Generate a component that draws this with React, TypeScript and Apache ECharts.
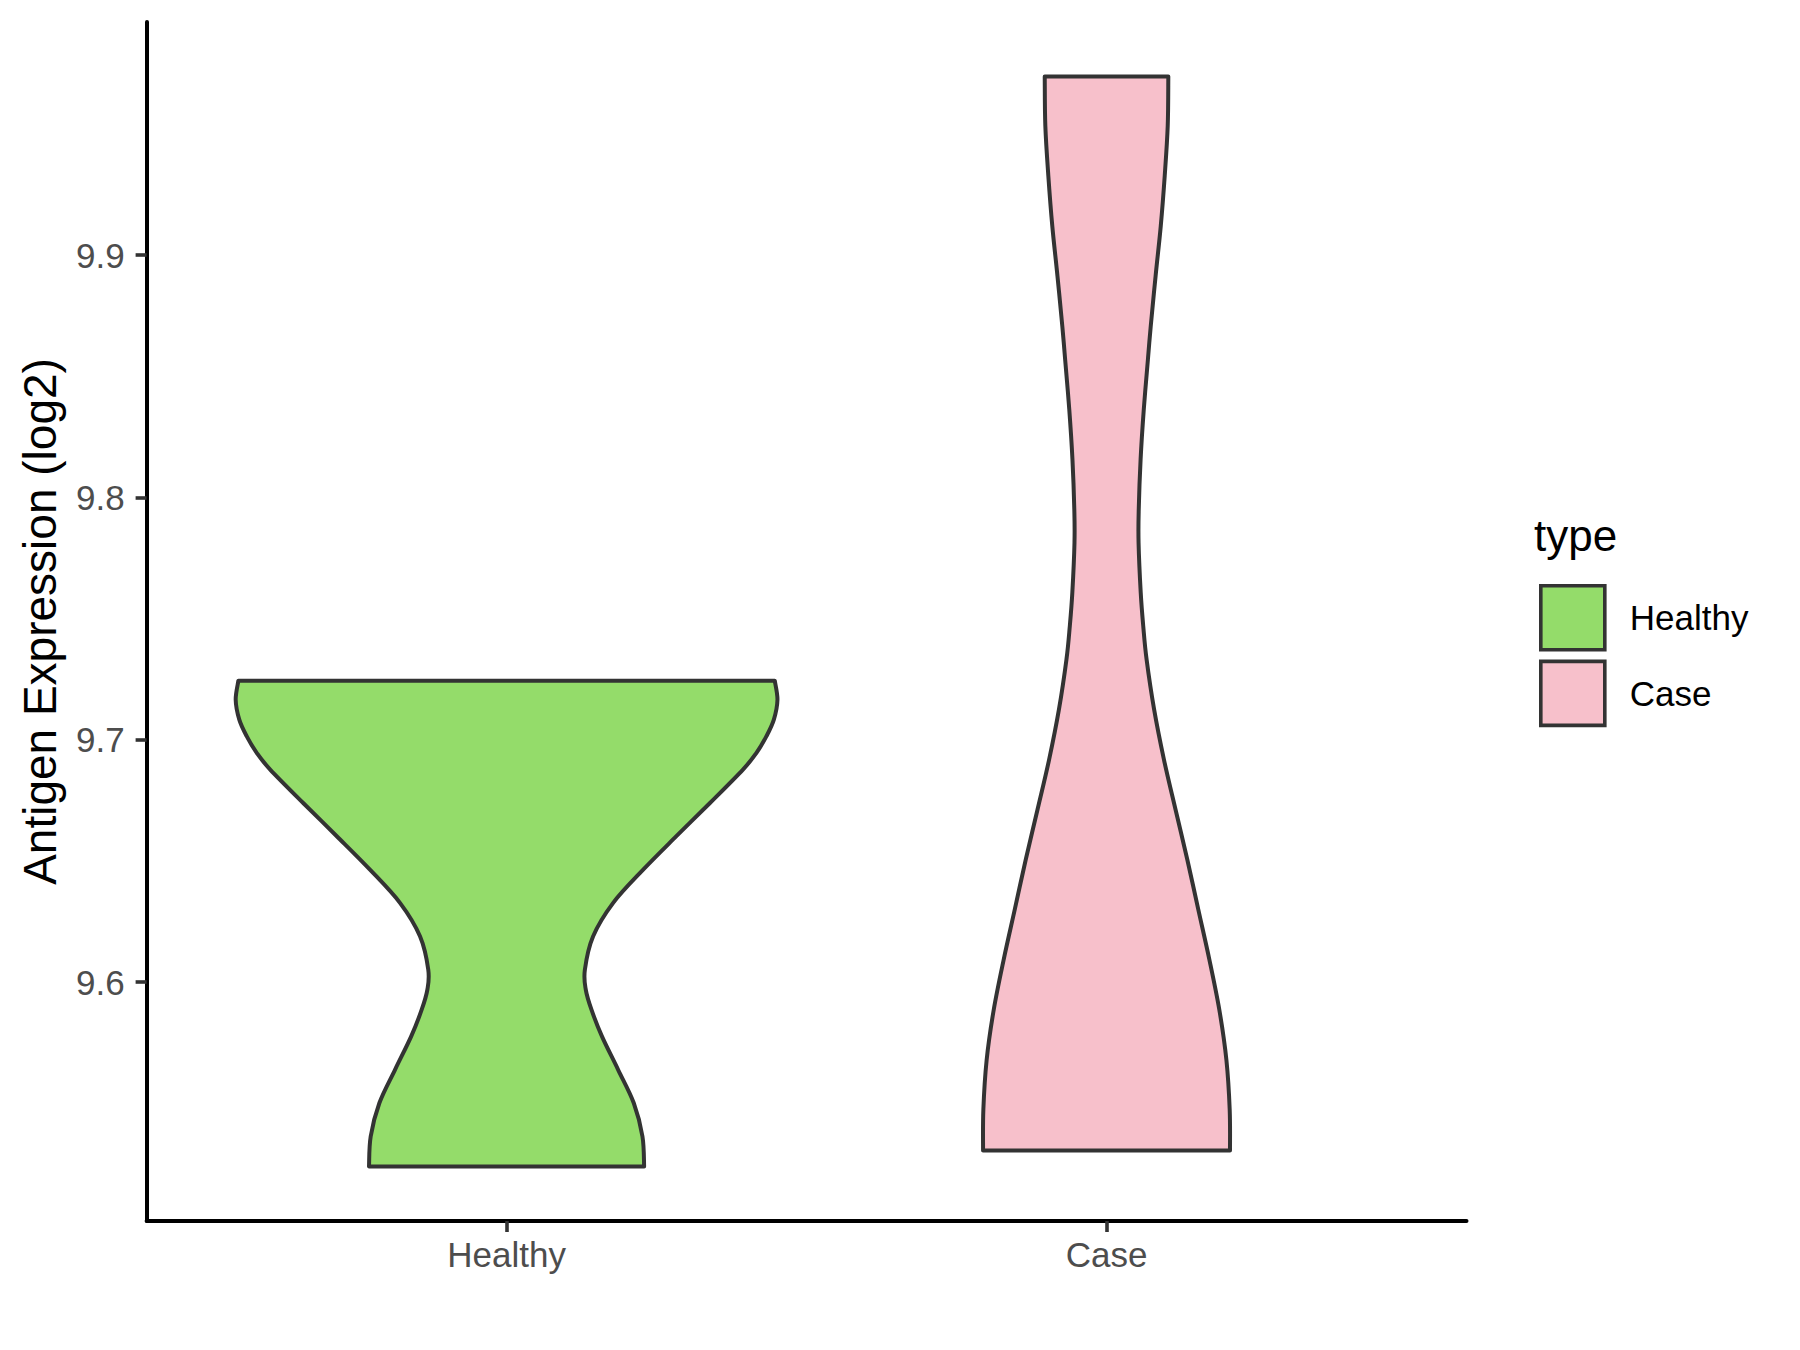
import React, { useEffect, useRef } from "react";
import * as echarts from "echarts";

// Groups on the x axis
const categories = ["Healthy", "Case"];

// Violin outlines: expression level (log2) from top to bottom, with the
// density half-width at that level, in category units
const healthyLevels = [
  9.7244, 9.7165, 9.7083, 9.7014, 9.6946, 9.6877, 9.6739, 9.6602, 9.6464, 9.6327,
  9.6189, 9.6051, 9.5969, 9.5886, 9.5776, 9.5638, 9.5501, 9.5363, 9.5239,
];
const healthyHalfWidths = [
  0.447, 0.4515, 0.4455, 0.433, 0.4165, 0.394, 0.339, 0.283, 0.2277, 0.1777,
  0.1443, 0.1305, 0.132, 0.1415, 0.159, 0.186, 0.212, 0.2265, 0.2293,
];
const caseLevels = [
  9.9737, 9.9533, 9.9327, 9.912, 9.8914, 9.8707, 9.857, 9.8363, 9.8157, 9.795,
  9.7813, 9.7607, 9.7469, 9.7331, 9.7125, 9.6918, 9.6712, 9.6505, 9.6299, 9.6092,
  9.5886, 9.5679, 9.5473, 9.5305,
];
const caseHalfWidths = [
  0.103, 0.102, 0.097, 0.0904, 0.0818, 0.0737, 0.069, 0.0621, 0.0568, 0.0537,
  0.0534, 0.057, 0.0612, 0.0668, 0.0793, 0.0957, 0.115, 0.1347, 0.153, 0.1715,
  0.188, 0.1998, 0.2053, 0.2058,
];

// Y axis tick labels
const yTicks = [9.6, 9.7, 9.8, 9.9];

const outlines = [
  { levels: healthyLevels, halfWidths: healthyHalfWidths },
  { levels: caseLevels, halfWidths: caseHalfWidths },
];
const fills = ["#94DC6A", "#F7C0CB"];
const FONT = "'Liberation Sans', Arial, Helvetica, sans-serif";

// Cubic Bezier segments of a Catmull-Rom spline through the given points
function splineSegments(pts: number[][]): string {
  let d = "";
  for (let i = 0; i < pts.length - 1; i++) {
    const p0 = pts[i - 1] || pts[i];
    const p1 = pts[i];
    const p2 = pts[i + 1];
    const p3 = pts[i + 2] || p2;
    const c1x = p1[0] + (p2[0] - p0[0]) / 6;
    const c1y = p1[1] + (p2[1] - p0[1]) / 6;
    const c2x = p2[0] - (p3[0] - p1[0]) / 6;
    const c2y = p2[1] - (p3[1] - p1[1]) / 6;
    d += ` C${c1x},${c1y} ${c2x},${c2y} ${p2[0]},${p2[1]}`;
  }
  return d;
}

function violinPath(api: any, center: number, levels: number[], halfWidths: number[]): string {
  const left = levels.map((v, i) => api.coord([center - halfWidths[i], v]));
  const right = levels.map((v, i) => api.coord([center + halfWidths[i], v])).reverse();
  let d = `M${left[0][0]},${left[0][1]}`;
  d += splineSegments(left);
  d += ` L${right[0][0]},${right[0][1]}`;
  d += splineSegments(right);
  d += " Z";
  return d;
}

export default function App() {
  const ref = useRef<HTMLDivElement>(null);

  useEffect(() => {
    if (!ref.current) return;
    const chart = echarts.init(ref.current, undefined, { renderer: "svg" });

    // Axis limits: data range widened by 5% on each side
    const all = [...healthyLevels, ...caseLevels];
    const lo = Math.min(...all);
    const hi = Math.max(...all);
    const pad = (hi - lo) * 0.05;

    chart.setOption({
      animation: false,
      backgroundColor: "#FFFFFF",
      textStyle: { fontFamily: FONT },
      title: {
        text: "type",
        left: 1534,
        top: 513,
        padding: 0,
        textStyle: { fontFamily: FONT, fontSize: 44, fontWeight: "normal", color: "#000000" },
      },
      legend: {
        orient: "vertical",
        left: 1539,
        top: 584,
        padding: 0,
        itemWidth: 64,
        itemHeight: 64,
        itemGap: 8,
        icon: "rect",
        selectedMode: false,
        itemStyle: { borderColor: "#333333", borderWidth: 3.6 },
        textStyle: { fontFamily: FONT, fontSize: 35, color: "#000000", padding: [0, 0, 0, 20] },
        data: categories.map((name) => ({ name })),
      },
      grid: { left: 146.6, right: 333.5, top: 22, bottom: 129, containLabel: false },
      xAxis: {
        type: "value",
        min: 0.4,
        max: 2.6,
        splitLine: { show: false },
        axisLine: { show: true, lineStyle: { color: "#000000", width: 4 } },
        axisTick: {
          show: true,
          customValues: [1, 2],
          length: 11,
          lineStyle: { color: "#333333", width: 3.6 },
        },
        axisLabel: {
          customValues: [1, 2],
          margin: 16,
          fontFamily: FONT,
          fontSize: 35,
          color: "#4D4D4D",
          formatter: (v: number) => categories[Math.round(v) - 1] ?? "",
        },
      },
      yAxis: {
        type: "value",
        min: lo - pad,
        max: hi + pad,
        name: "Antigen Expression (log2)",
        nameLocation: "middle",
        nameRotate: 90,
        nameGap: 84,
        nameTextStyle: { fontFamily: FONT, fontSize: 46, color: "#000000" },
        splitLine: { show: false },
        axisLine: { show: true, lineStyle: { color: "#000000", width: 4 } },
        axisTick: {
          show: true,
          customValues: yTicks,
          length: 11,
          lineStyle: { color: "#333333", width: 3.6 },
        },
        axisLabel: {
          customValues: yTicks,
          margin: 22,
          fontFamily: FONT,
          fontSize: 35,
          color: "#4D4D4D",
          formatter: (v: number) => v.toFixed(1),
        },
      },
      series: categories.map((name, idx) => ({
        type: "custom",
        name,
        coordinateSystem: "cartesian2d",
        clip: false,
        silent: true,
        itemStyle: { color: fills[idx], borderColor: "#333333", borderWidth: 3.6 },
        encode: { x: 0, y: 1 },
        data: [[idx + 1, outlines[idx].levels[0]]],
        renderItem: (_params: any, api: any) => ({
          type: "path",
          shape: {
            pathData: violinPath(api, idx + 1, outlines[idx].levels, outlines[idx].halfWidths),
          },
          style: {
            fill: fills[idx],
            stroke: "#333333",
            lineWidth: 4,
            lineJoin: "round",
          },
        }),
      })),
    });

    return () => chart.dispose();
  }, []);

  return (
    <div
      ref={ref}
      style={{ position: "fixed", left: 0, top: 0, width: 1800, height: 1350, background: "#FFFFFF" }}
    />
  );
}
